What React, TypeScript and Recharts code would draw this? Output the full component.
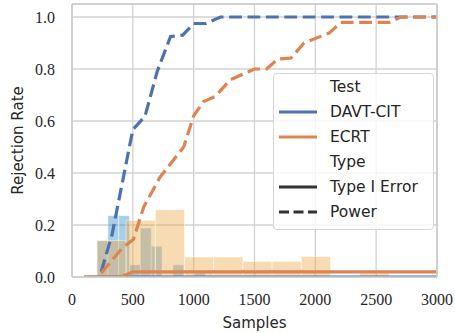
import { ComposedChart, Line, XAxis, YAxis, CartesianGrid, ReferenceArea, ReferenceLine } from 'recharts';

const BLUE = '#4c72b0';
const ORANGE = '#dd8452';
const SERIF = '"Liberation Serif", "DejaVu Serif", serif';
const SANS = '"DejaVu Sans", sans-serif';
const TEXT = '#262626';

const xTicks = [0, 500, 1000, 1500, 2000, 2500, 3000];
const yTicks = [0, 0.2, 0.4, 0.6, 0.8, 1.0];

// power curves (dashed)
const davtPowerX = [240, 330, 500, 600, 700, 810, 910, 1000, 1100, 1220, 3000];
const davtPowerY = [0.02, 0.165, 0.567, 0.618, 0.79, 0.925, 0.93, 0.975, 0.975, 1.0, 1.0];
const ecrtPowerX = [240, 410, 505, 590, 725, 918, 1000, 1082, 1179, 1302, 1500, 1600, 1690, 1800, 1907, 2113, 2209, 2607, 2704, 3000];
const ecrtPowerY = [0.015, 0.11, 0.145, 0.27, 0.385, 0.5, 0.62, 0.675, 0.695, 0.759, 0.8, 0.8, 0.838, 0.842, 0.9, 0.938, 0.979, 0.979, 1.0, 1.0];

// type I error curves (solid)
const typeIX = [100, 400, 500, 3000];
const davtTypeI = [0, 0, 0, 0];
const ecrtTypeI = [0, 0, 0.02, 0.02];

// histograms of stopping sample sizes
const davtHistEdges = [206, 295, 384, 473, 562, 651, 740, 829, 918, 1007, 1096];
const davtHistHeights = [0.14, 0.236, 0.236, 0.047, 0.188, 0.118, 0, 0.047, 0, 0.015];
const ecrtHistEdges = [205, 445, 685, 925, 1165, 1405, 1645, 1885, 2125, 2365, 2605];
const ecrtHistHeights = [0.14, 0.218, 0.259, 0.077, 0.077, 0.06, 0.06, 0.079, 0, 0.015];

const zip = (xs: number[], ys: number[]) => xs.map((x, i) => ({ x, y: ys[i] }));

const legendRows = [
    { label: 'Test' },
    { label: 'DAVT-CIT', color: BLUE },
    { label: 'ECRT', color: ORANGE },
    { label: 'Type' },
    { label: 'Type I Error', color: '#333' },
    { label: 'Power', color: '#333', dash: '10 4.5' },
];

function hist(edges: number[], heights: number[], fill: string, opacity: number, key: string) {
    return heights.map((h, i) =>
        h > 0 ? (
            <ReferenceArea
                key={key + i}
                x1={edges[i]}
                x2={edges[i + 1]}
                y1={0}
                y2={h}
                fill={fill}
                fillOpacity={opacity}
                stroke="#ffffff"
                strokeOpacity={0.6}
                strokeWidth={0.8}
                ifOverflow="visible"
                zIndex={50}
            />
        ) : null
    );
}

export default function App() {
    return (
        <div style={{ position: 'absolute', left: 0, top: 0, width: 455, height: 333, background: '#fff' }}>
            <ComposedChart width={455} height={333} margin={{ top: 4, right: 18, bottom: 0, left: 0 }}>
                <CartesianGrid stroke="#d2d2d2" strokeWidth={1.3} />
                <XAxis
                    type="number"
                    dataKey="x"
                    domain={[0, 3000]}
                    ticks={xTicks}
                    allowDataOverflow
                    height={56}
                    tickLine={false}
                    tickSize={0}
                    tickMargin={17}
                    axisLine={{ stroke: '#cccccc', strokeWidth: 1.7 }}
                    tick={{ fontFamily: SERIF, fontSize: 16, fill: TEXT }}
                    label={{ value: 'Samples', position: 'insideBottom', offset: 5, fontFamily: SANS, fontSize: 15, fill: TEXT }}
                />
                <YAxis
                    type="number"
                    domain={[0, 1.05]}
                    ticks={yTicks}
                    allowDataOverflow
                    width={72}
                    tickLine={false}
                    tickSize={0}
                    tickMargin={17}
                    tickFormatter={(v: number) => v.toFixed(1)}
                    axisLine={{ stroke: '#cccccc', strokeWidth: 1.7 }}
                    tick={{ fontFamily: SERIF, fontSize: 16, fill: TEXT }}
                    label={{ value: 'Rejection Rate', angle: -90, position: 'insideLeft', offset: 18, fontFamily: SANS, fontSize: 15, fill: TEXT, style: { textAnchor: 'middle' } }}
                />
                {hist(davtHistEdges, davtHistHeights, '#3e92cc', 0.45, 'd')}
                {hist(ecrtHistEdges, ecrtHistHeights, '#eaa840', 0.4, 'e')}
                <Line data={zip(typeIX, davtTypeI)} dataKey="y" stroke={BLUE} strokeWidth={3.2} dot={false} isAnimationActive={false} />
                <Line data={zip(typeIX, ecrtTypeI)} dataKey="y" stroke={ORANGE} strokeWidth={3.2} dot={false} isAnimationActive={false} />
                <Line data={zip(davtPowerX, davtPowerY)} dataKey="y" stroke={BLUE} strokeWidth={3.2} strokeDasharray="12.8 5.6" dot={false} isAnimationActive={false} />
                <Line data={zip(ecrtPowerX, ecrtPowerY)} dataKey="y" stroke={ORANGE} strokeWidth={3.2} strokeDasharray="12.8 5.6" dot={false} isAnimationActive={false} />
                <ReferenceLine x={3000} stroke="#cccccc" strokeWidth={1.7} ifOverflow="visible" />
                <ReferenceLine y={1.05} stroke="#cccccc" strokeWidth={1.7} ifOverflow="visible" />
            </ComposedChart>
            <div
                style={{
                    position: 'absolute',
                    left: 272.7,
                    top: 72.7,
                    width: 153.6,
                    height: 153.6,
                    border: '1px solid #d6d6d6',
                    borderRadius: 4,
                    background: 'rgba(255,255,255,0.8)',
                    padding: '1.3px 0 0 5.3px',
                    boxSizing: 'content-box',
                    fontFamily: SANS,
                    fontSize: 15.5,
                    color: TEXT,
                }}
            >
                {legendRows.map((r) => (
                    <div key={r.label} style={{ display: 'flex', alignItems: 'center', height: 25 }}>
                        <svg width={38} height={6} style={{ marginRight: 13, flex: 'none' }}>
                            {r.color && <line x1={0} y1={3} x2={38} y2={3} stroke={r.color} strokeWidth={3} strokeDasharray={r.dash} />}
                        </svg>
                        <span>{r.label}</span>
                    </div>
                ))}
            </div>
        </div>
    );
}
